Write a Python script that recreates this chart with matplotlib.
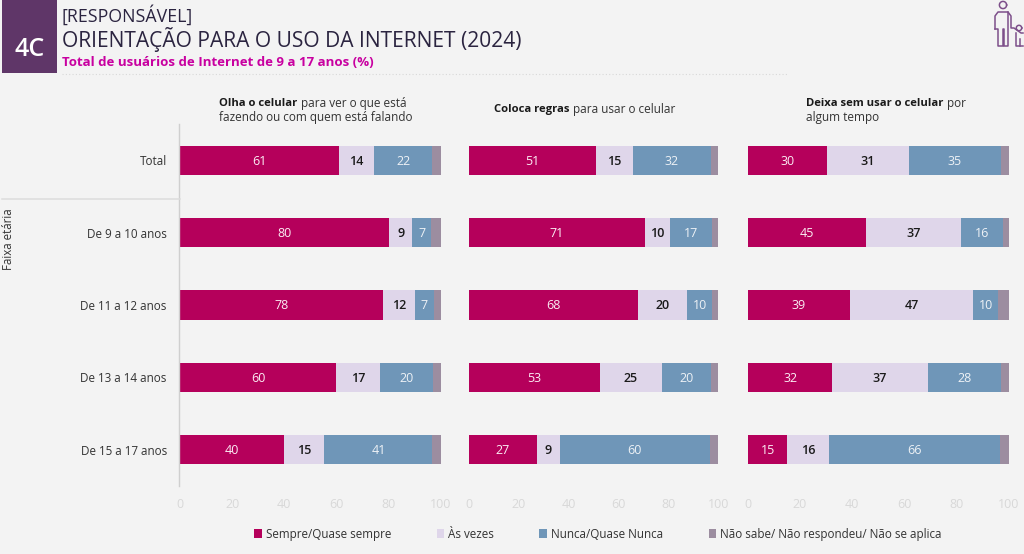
import matplotlib
matplotlib.use("Agg")
import matplotlib.pyplot as plt
from matplotlib.patches import Rectangle
from matplotlib.lines import Line2D
import numpy as np

plt.rcParams['font.family'] = ['Open Sans', 'DejaVu Sans']

rows = ["Total", "De 9 a 10 anos", "De 11 a 12 anos", "De 13 a 14 anos", "De 15 a 17 anos"]
series_names = ["Sempre/Quase sempre", "Às vezes", "Nunca/Quase Nunca", "Não sabe/ Não respondeu/ Não se aplica"]
colors = ["#b5005b", "#dfd6ea", "#6f96b8", "#9c8da0"]
label_colors = ["#fbeef4", "#1a1a1a", "#eef2f6", None]

olha_sempre = [60.9, 80.2, 77.7, 60.0, 40.0]
olha_vezes = [13.6, 8.9, 12.3, 16.7, 15.4]
olha_nunca = [22.3, 7.3, 7.4, 20.3, 41.4]
olha_ns = [3.2, 3.6, 2.6, 3.0, 3.2]

regras_sempre = [50.9, 70.8, 67.7, 52.6, 27.4]
regras_vezes = [14.8, 9.7, 20.0, 24.9, 9.2]
regras_nunca = [31.6, 17.0, 9.9, 19.6, 60.0]
regras_ns = [2.7, 2.5, 2.4, 2.9, 3.4]

deixa_sempre = [30.4, 45.3, 39.2, 32.4, 15.1]
deixa_vezes = [31.4, 36.6, 47.2, 36.6, 16.0]
deixa_nunca = [35.1, 15.8, 9.6, 28.2, 65.6]
deixa_ns = [3.1, 2.3, 4.0, 2.8, 3.3]

panels = [
    ([olha_sempre, olha_vezes, olha_nunca, olha_ns], 180, 440.8),
    ([regras_sempre, regras_vezes, regras_nunca, regras_ns], 468.6, 718.2),
    ([deixa_sempre, deixa_vezes, deixa_nunca, deixa_ns], 747.9, 1008.6),
]
W, H = 1024, 554
BG = "#f3f3f3"
top, bottom = 124, 486

fig = plt.figure(figsize=(W / 100, H / 100), dpi=100, facecolor=BG)

def fx(x): return x / W
def fy(y): return 1 - y / H

handles = None
for pi, (vals, x0, x1) in enumerate(panels):
    ax = fig.add_axes([fx(x0), fy(bottom), (x1 - x0) / W, (bottom - top) / H], facecolor="none")
    for s in ax.spines.values():
        s.set_visible(False)
    if pi == 0:
        ax.spines["left"].set_position(("outward", 0.5))
        ax.spines["left"].set_visible(True)
        ax.spines["left"].set_color("#cfcfcf")
        ax.spines["left"].set_linewidth(1.0)
    left = [0] * len(rows)
    bars = []
    for si, v in enumerate(vals):
        b = ax.barh(range(len(rows)), v, left=left, height=0.406, color=colors[si], label=series_names[si])
        bars.append(b)
        if label_colors[si]:
            for i, val in enumerate(v):
                ax.text(left[i] + val / 2, i + 0.012, f"{val:.0f}", ha="center", va="center",
                        color=label_colors[si], fontsize=9,
                        fontweight="semibold" if si == 1 else "normal")
        left = [l + a for l, a in zip(left, v)]
    handles = bars
    ax.set_xlim(0, 100)
    ax.set_ylim(4.5, -0.5)
    ax.set_xticks(range(0, 101, 20))
    ax.tick_params(axis="x", length=0, labelsize=9, labelcolor="#d8d8d8", pad=9)
    if pi == 0:
        ax.set_yticks(range(len(rows)))
        ax.set_yticklabels(rows)
        ax.tick_params(axis="y", length=0, pad=9, labelsize=8.4, labelcolor="#333333")
    else:
        ax.set_yticks([])

# row group separator
fig.add_artist(Line2D([fx(2), fx(180)], [fy(199)] * 2, color="#dcdcdc", lw=1.1))
fig.text(fx(9), fy(239.5), "Faixa etária", rotation=90, ha="center", va="center", fontsize=8.3, color="#333333")

# header
fig.add_artist(Rectangle((fx(2), fy(73)), 55 / W, 73 / H, color="#5f3668", lw=0))
fig.text(fx(29.5), fy(50), "4C", ha="center", va="center", fontsize=18, fontweight="semibold", color="white")
fig.text(fx(61.5), fy(15), "[RESPONSÁVEL]", ha="left", va="center", fontsize=12.8, color="#2b2440")
fig.text(fx(62), fy(39.5), "ORIENTAÇÃO PARA O USO DA INTERNET (2024)", ha="left", va="center", fontsize=15.1, color="#2b2440")
fig.text(fx(62), fy(62), "Total de usuários de Internet de 9 a 17 anos (%)", ha="left", va="center",
         fontsize=9.5, fontweight="bold", color="#c800a0")
fig.add_artist(Line2D([fx(62), fx(788)], [fy(74)] * 2, color="#d8d8d8", lw=0.8, ls=(0, (1, 2))))

# panel titles
def title(x, y, bold, rest):
    t = fig.text(fx(x), fy(y), bold, ha="left", va="center", fontsize=8.1, fontweight="bold", color="#1a1a1a")
    fig.canvas.draw()
    bb = t.get_window_extent()
    fig.text((bb.x1 + 3.5) / W, fy(y), rest, ha="left", va="center", fontsize=8.5, color="#333333")

title(219, 103, "Olha o celular", "para ver o que está")
fig.text(fx(219), fy(118), "fazendo ou com quem está falando", ha="left", va="center", fontsize=8.5, color="#333333")
title(494, 110, "Coloca regras", "para usar o celular")
title(806, 103, "Deixa sem usar o celular", "por")
fig.text(fx(806), fy(118), "algum tempo", ha="left", va="center", fontsize=8.5, color="#333333")

# legend
fig.legend([h[0] for h in handles], series_names, loc="center", bbox_to_anchor=(fx(598), fy(534.5)), ncol=4,
           frameon=False, fontsize=8.4, handlelength=0.66, handleheight=0.8, handletextpad=0.35,
           columnspacing=3.88, labelcolor="#333333")

# icon (adult and child)
ic = "#7d4f8a"
def pl(xs, ys, lw=1.1):
    fig.add_artist(Line2D([fx(x) for x in xs], [fy(y) for y in ys], color=ic, lw=lw))
def ring(cx, cy, r):
    t = np.linspace(0, 2 * np.pi, 40)
    pl(cx + r * np.cos(t), cy + r * np.sin(t))
ring(1003, 5, 3.6)
pl([995, 995, 998, 1008, 1011, 1011, 1014, 1021, 1023], [29, 16, 12, 12, 16, 28, 28, 33, 33])
pl([995, 998, 998, 1002.5, 1002.5, 1003.5, 1003.5, 1008, 1008], [29, 29, 46, 46, 29, 29, 46, 46, 12])
ring(1019, 28, 2.7)
pl([1016, 1016, 1023], [33, 46, 46])
pl([1019.5, 1019.5], [46, 39])

fig.savefig("out.png", dpi=100, facecolor=BG)
